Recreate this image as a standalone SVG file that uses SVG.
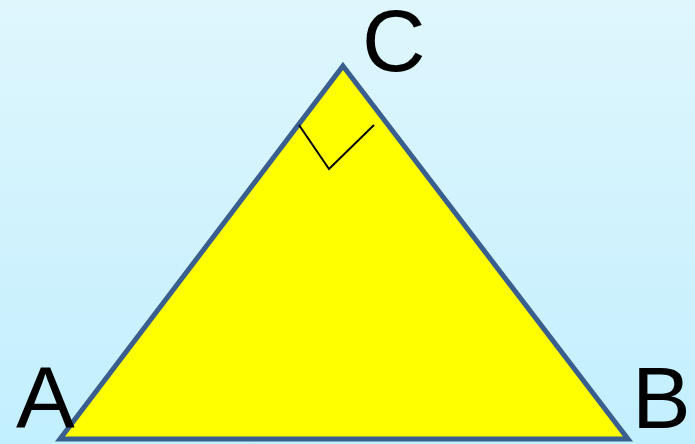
<svg xmlns="http://www.w3.org/2000/svg" width="695" height="444" viewBox="0 0 695 444">
<defs>
<linearGradient id="bg" x1="0" y1="0" x2="0" y2="1">
<stop offset="0" stop-color="#dff6fd"/>
<stop offset="1" stop-color="#c2effe"/>
</linearGradient>
<style>
.lbl{font-family:"Liberation Sans",Arial,sans-serif;font-size:88px;fill:#000}
.tri{fill:#ffff00;stroke:#3a5f8e;stroke-width:5;stroke-linejoin:miter}
.ra{fill:none;stroke:#000;stroke-width:2}
</style>
</defs>
<rect width="695" height="444" fill="url(#bg)"/>
<g id="triangle">
<polygon class="tri" points="343,66 628,439 60,439"/>
</g>
<g id="connectors">
<polyline class="ra" points="299,125 329,169 374,125"/>
</g>
<g id="label-C"><text class="lbl" x="362" y="71">C</text></g>
<g id="label-A"><text class="lbl" x="16" y="428">A</text></g>
<g id="label-B"><text class="lbl" x="632" y="428">B</text></g>
</svg>
